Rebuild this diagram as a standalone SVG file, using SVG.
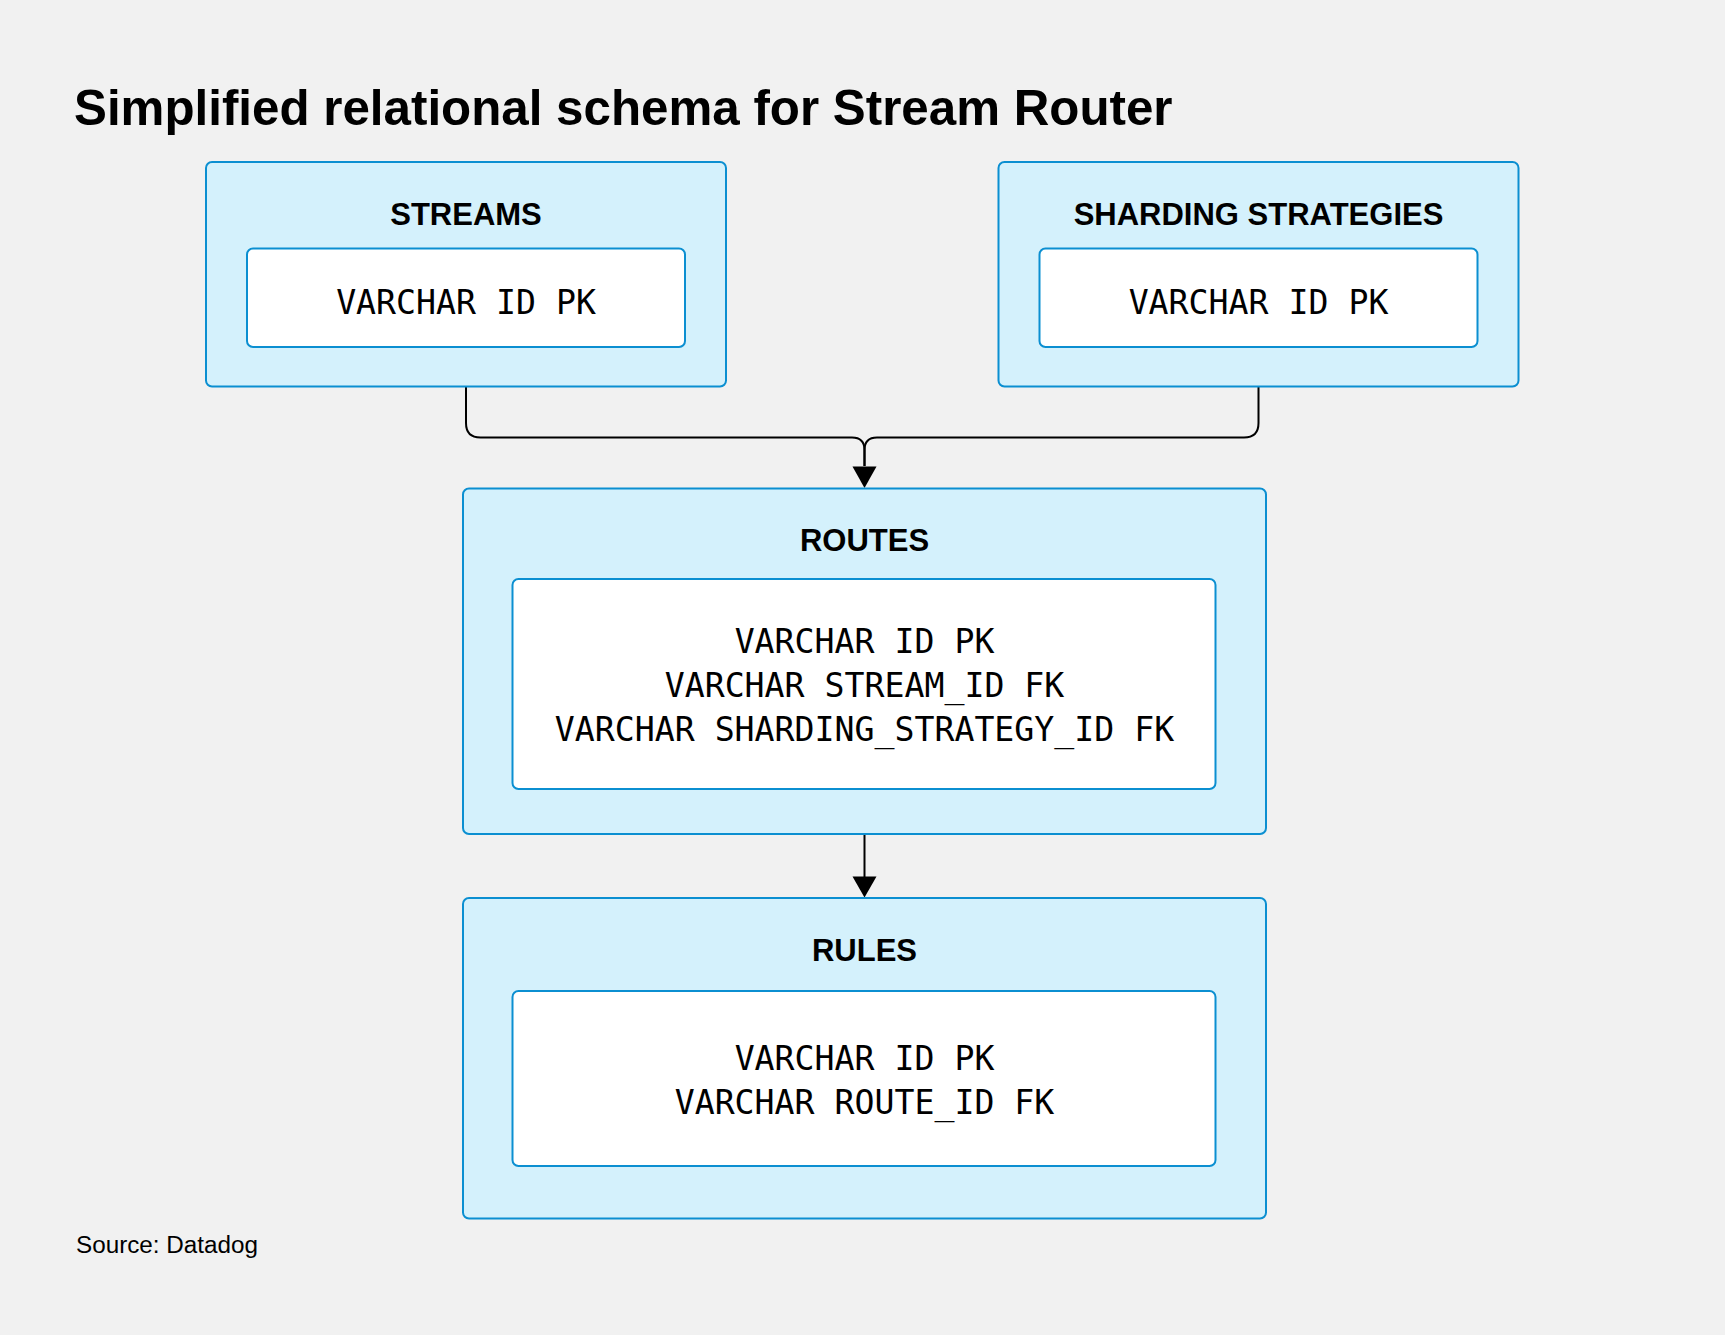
<svg xmlns="http://www.w3.org/2000/svg" width="1725" height="1335" viewBox="0 0 1725 1335">
<defs>
<style>
.outer{fill:#d4f1fc;stroke:#0b8fd1;stroke-width:2}
.inner{fill:#ffffff;stroke:#0b8fd1;stroke-width:2}
.hdr{font-family:"Liberation Sans",Arial,sans-serif;font-weight:bold;font-size:31px;fill:#000;text-anchor:middle}
.mono{font-family:"DejaVu Sans Mono","Liberation Mono",monospace;font-size:33.2px;fill:#000;text-anchor:middle}
.conn{fill:none;stroke:#000;stroke-width:2}
</style>
</defs>
<rect x="0" y="0" width="1725" height="1335" fill="#f1f1f1"/>
<text x="74" y="125" font-family="'Liberation Sans',Arial,sans-serif" font-weight="bold" font-size="49.3" fill="#000">Simplified relational schema for Stream Router</text>

<g id="connectors">
<path class="conn" d="M466,387 V423 Q466,437.5 480.5,437.5 H852 Q864.5,437.5 864.5,450 V466"/>
<path class="conn" d="M1258.5,387 V423 Q1258.5,437.5 1244,437.5 H877 Q864.5,437.5 864.5,450 V466"/>
<path d="M852.5,466.5 L876.5,466.5 L864.5,488 Z" fill="#000"/>
<path class="conn" d="M864.5,835 V877"/>
<path d="M852.5,876.5 L876.5,876.5 L864.5,897.5 Z" fill="#000"/>
</g>

<g id="streams">
<rect class="outer" x="206" y="162" width="520" height="224.5" rx="6"/>
<text class="hdr" x="466" y="224.5">STREAMS</text>
<rect class="inner" x="247" y="248.5" width="438" height="98.5" rx="6"/>
<text class="mono" x="466" y="314">VARCHAR ID PK</text>
</g>

<g id="sharding-strategies">
<rect class="outer" x="998.5" y="162" width="520" height="224.5" rx="6"/>
<text class="hdr" x="1258.5" y="224.5">SHARDING STRATEGIES</text>
<rect class="inner" x="1039.5" y="248.5" width="438" height="98.5" rx="6"/>
<text class="mono" x="1258.5" y="314">VARCHAR ID PK</text>
</g>

<g id="routes">
<rect class="outer" x="463" y="488.5" width="803" height="345.5" rx="6"/>
<text class="hdr" x="864.5" y="551">ROUTES</text>
<rect class="inner" x="512.5" y="579" width="703" height="210" rx="6"/>
<text class="mono" x="864.5" y="652.5">VARCHAR ID PK</text>
<text class="mono" x="864.5" y="696.5">VARCHAR STREAM_ID FK</text>
<text class="mono" x="864.5" y="740.5">VARCHAR SHARDING_STRATEGY_ID FK</text>
</g>

<g id="rules">
<rect class="outer" x="463" y="898" width="803" height="320.5" rx="6"/>
<text class="hdr" x="864.5" y="960.5">RULES</text>
<rect class="inner" x="512.5" y="991" width="703" height="175" rx="6"/>
<text class="mono" x="864.5" y="1070">VARCHAR ID PK</text>
<text class="mono" x="864.5" y="1114">VARCHAR ROUTE_ID FK</text>
</g>

<text x="76" y="1253" font-family="'Liberation Sans',Arial,sans-serif" font-size="23" fill="#000" textLength="182" lengthAdjust="spacingAndGlyphs">Source: Datadog</text>
</svg>
